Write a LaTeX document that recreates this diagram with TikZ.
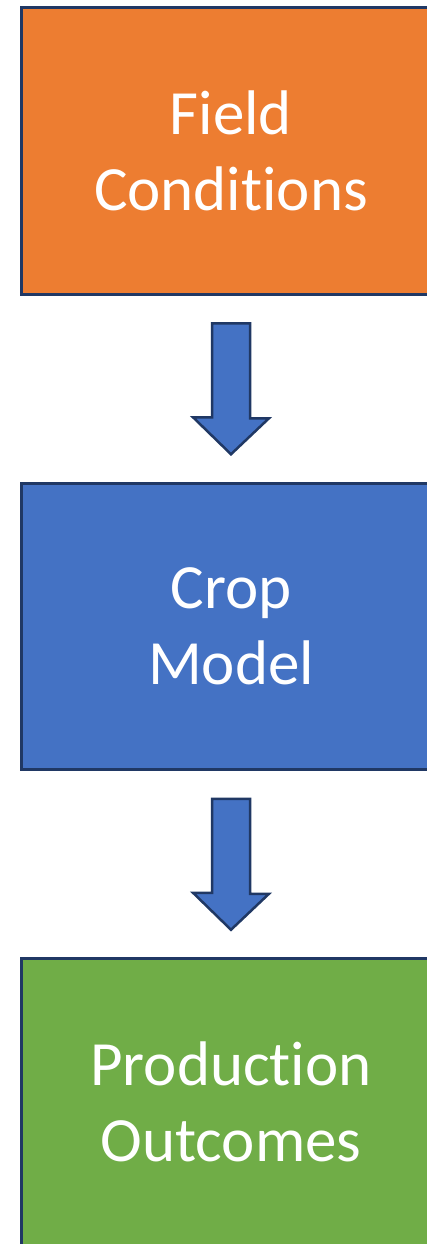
\documentclass[tikz,border=0pt]{standalone}
\usepackage{fontspec}
\setmainfont{Carlito}[Ligatures=NoCommon]
\usepackage{xcolor}
\usepackage{tikz}
\usetikzlibrary{positioning,calc}
\definecolor{fieldorange}{HTML}{ED7D31}
\definecolor{modelblue}{HTML}{4472C4}
\definecolor{outgreen}{HTML}{70AD47}
\definecolor{edgenavy}{HTML}{203864}
\tikzset{
    stagebox/.style={draw=edgenavy, line width=3pt, text=white, align=center,
        minimum width=419.5pt, minimum height=286.5pt, inner sep=0pt, outer sep=0pt,
        font=\fontsize{63}{76}\selectfont},
    flowarrow/.style={draw=edgenavy, fill=modelblue, line width=2.5pt, line join=miter}
}
\begin{document}
\begin{tikzpicture}[x=1pt,y=1pt]
    \useasboundingbox (0,0) rectangle (426,-1244);
    \node[stagebox, fill=fieldorange] (field) at (231,-151) {Field\\Conditions};
    \node[stagebox, fill=modelblue, below=189pt of field] (model) {Crop\\Model};
    \node[stagebox, fill=outgreen, below=189pt of model] (outcomes) {Production\\Outcomes};
    % block arrows between the stages
    \draw[flowarrow] ($(field.south)+(-19,-29)$) -- ++(38,0) -- ++(0,-95) -- ++(19,0)
        -- ($(model.north)+(0,29)$) -- ++(-38,37) -- ++(19,0) -- cycle;
    \draw[flowarrow] ($(model.south)+(-19,-29)$) -- ++(38,0) -- ++(0,-95) -- ++(19,0)
        -- ($(outcomes.north)+(0,29)$) -- ++(-38,37) -- ++(19,0) -- cycle;
\end{tikzpicture}
\end{document}
